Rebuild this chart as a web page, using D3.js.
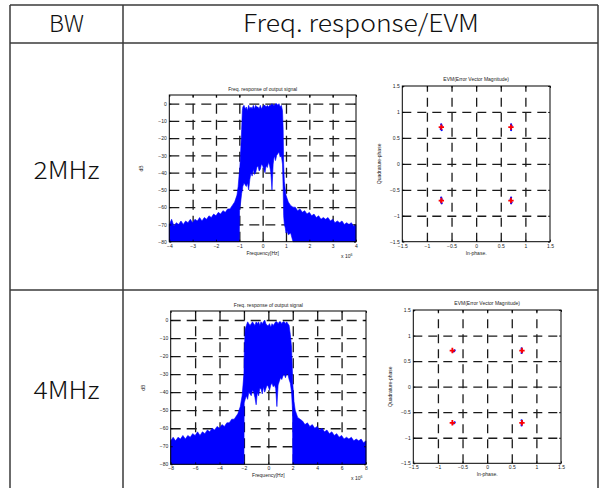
<!DOCTYPE html>
<html>
<head>
<meta charset="utf-8">
<script src="https://cdn.jsdelivr.net/npm/d3@7"></script>
<style>
  body { margin: 0; background: #fff; }
  svg text { font-family: "Liberation Sans", Arial, sans-serif; }
  svg text.cell { font-family: "Noto Sans CJK KR", "Liberation Sans", sans-serif; font-weight: 300; }
</style>
</head>
<body>
<div id="chart"></div>
<script>
// table texts
var headerLabels = ["BW", "Freq.  response/EVM"];
var bwLabels = ["2MHz", "4MHz"];

// axis ticks
var dbTicks = [0, -10, -20, -30, -40, -50, -60, -70, -80];
var freqTicks2 = [-4, -3, -2, -1, 0, 1, 2, 3, 4];
var freqTicks4 = [-8, -6, -4, -2, 0, 2, 4, 6, 8];
var iqTicks = [-1.5, -1, -0.5, 0, 0.5, 1, 1.5];

// spectrum envelopes: [freq (x1e6 Hz), top dB, bottom dB]
var spectrum2 = [
  [-4.0, -70, -80], [-3.9, -67, -80], [-3.8, -71, -80], [-3.7, -69, -80], [-3.6, -70, -80],
  [-3.5, -68, -80], [-3.4, -70, -80], [-3.3, -68, -80], [-3.2, -69, -80], [-3.1, -67, -80],
  [-3.0, -69, -80], [-2.9, -67, -80], [-2.8, -68, -80], [-2.7, -66, -80], [-2.6, -68, -80],
  [-2.5, -66, -80], [-2.4, -67, -80], [-2.3, -65, -80], [-2.2, -66, -80], [-2.1, -64, -80],
  [-2.0, -65, -80], [-1.9, -63, -80], [-1.8, -64, -80], [-1.7, -62, -80], [-1.6, -63, -80],
  [-1.5, -61, -80], [-1.4, -61, -80], [-1.3, -59, -80], [-1.2, -57, -80], [-1.1, -53, -80],
  [-1.05, -48, -80], [-1.0, -40, -80],
  [-0.99, -40, -62], [-0.95, -30, -58], [-0.9, -15, -52], [-0.87, -4, -50], [-0.85, -2, -48],
  [-0.8, -1, -46], [-0.75, -3, -47], [-0.7, -2, -48], [-0.65, -4, -46], [-0.6, -1, -50],
  [-0.55, -3, -44], [-0.5, -2, -40], [-0.45, -3, -42], [-0.4, -1, -38], [-0.35, -3, -41],
  [-0.3, -1, -40], [-0.25, -2, -37], [-0.2, -2, -36], [-0.15, -3, -39], [-0.1, -1, -38],
  [-0.05, -3, -35], [0, -2, -36], [0.05, -1, -38], [0.1, -1, -40], [0.15, -2, -36],
  [0.2, -1, -37], [0.25, -2, -34], [0.3, -1, -36], [0.35, -1, -40], [0.4, 0, -50],
  [0.45, -1, -35], [0.5, -1, -30], [0.55, 0, -33], [0.6, 0, -30], [0.65, -1, -29],
  [0.7, 0, -28], [0.75, -2, -31], [0.8, -1, -30], [0.85, -4, -35],
  [0.88, -15, -50], [0.9, -35, -65], [0.93, -45, -70], [0.97, -50, -72], [1.0, -53, -75],
  [1.05, -55, -74], [1.1, -57, -76], [1.2, -59, -75], [1.3, -60, -80], [1.4, -60, -80],
  [1.5, -62, -80], [1.6, -61, -80], [1.7, -63, -80], [1.8, -62, -80], [1.9, -64, -80],
  [2.0, -63, -80], [2.1, -65, -80], [2.2, -64, -80], [2.3, -66, -80], [2.4, -65, -80],
  [2.5, -67, -80], [2.6, -66, -80], [2.7, -67, -80], [2.8, -66, -80], [2.9, -68, -80],
  [3.0, -67, -80], [3.1, -69, -80], [3.2, -68, -80], [3.3, -69, -80], [3.4, -68, -80],
  [3.5, -70, -80], [3.6, -69, -80], [3.7, -70, -80], [3.8, -69, -80], [3.9, -71, -80],
  [4.0, -70, -80]
];
var spectrum4 = [
  [-8.0, -67, -80], [-7.8, -65, -80], [-7.6, -67, -80], [-7.4, -65, -80], [-7.2, -66, -80],
  [-7.0, -64, -80], [-6.8, -66, -80], [-6.6, -64, -80], [-6.4, -65, -80], [-6.2, -63, -80],
  [-6.0, -64, -80], [-5.8, -62, -80], [-5.6, -64, -80], [-5.4, -62, -80], [-5.2, -63, -80],
  [-5.0, -61, -80], [-4.8, -62, -80], [-4.6, -60, -80], [-4.4, -61, -80], [-4.2, -59, -80],
  [-4.0, -60, -80], [-3.8, -58, -80], [-3.6, -59, -80], [-3.4, -57, -80], [-3.2, -57, -80],
  [-3.0, -55, -80], [-2.8, -55, -80], [-2.6, -53, -80], [-2.5, -52, -80], [-2.3, -48, -80],
  [-2.15, -42, -80], [-2.0, -30, -80],
  [-1.98, -20, -46], [-1.9, -5, -44], [-1.8, -3, -42], [-1.7, -1, -44], [-1.6, -2, -40],
  [-1.5, -3, -41], [-1.4, -2, -42], [-1.3, -1, -39], [-1.2, -2, -40], [-1.1, -3, -43],
  [-1.0, -1, -47], [-0.9, -2, -40], [-0.8, -1, -42], [-0.7, -3, -38], [-0.6, -1, -38],
  [-0.5, -2, -41], [-0.4, -1, -37], [-0.3, 0, -40], [-0.2, -2, -38], [-0.1, -3, -36],
  [0, -3, -37], [0.1, -2, -39], [0.2, -4, -36], [0.3, -2, -35], [0.4, -3, -37],
  [0.5, -2, -36], [0.6, -1, -38], [0.7, -1, -48], [0.8, -2, -36], [0.9, -1, -34],
  [1.0, -1, -32], [1.1, -2, -33], [1.2, -1, -31], [1.3, -1, -30], [1.4, -2, -32],
  [1.5, -1, -30], [1.6, -2, -30], [1.7, -3, -33], [1.8, -8, -35], [1.9, -15, -40],
  [1.98, -30, -50], [2.0, -35, -80],
  [2.1, -45, -80], [2.2, -50, -80], [2.3, -52, -80], [2.4, -54, -80], [2.6, -55, -80],
  [2.8, -56, -80], [3.0, -58, -80], [3.2, -57, -80], [3.4, -59, -80], [3.6, -58, -80],
  [3.8, -60, -80], [4.0, -59, -80], [4.2, -61, -80], [4.4, -60, -80], [4.6, -62, -80],
  [4.8, -61, -80], [5.0, -63, -80], [5.2, -62, -80], [5.4, -64, -80], [5.6, -63, -80],
  [5.8, -65, -80], [6.0, -64, -80], [6.2, -66, -80], [6.4, -65, -80], [6.6, -66, -80],
  [6.8, -65, -80], [7.0, -67, -80], [7.2, -66, -80], [7.4, -67, -80], [7.6, -66, -80],
  [7.8, -68, -80], [8.0, -67, -80]
];

// constellation: ideal QPSK points and received samples [I, Q]
var evmRef = [[-0.707, 0.707], [0.707, 0.707], [-0.707, -0.707], [0.707, -0.707]];
var evmRx2 = [
  [-0.71, 0.76], [-0.70, 0.73], [-0.71, 0.70], [-0.72, 0.67], [-0.70, 0.65],
  [0.71, 0.76], [0.72, 0.73], [0.70, 0.70], [0.71, 0.67], [0.71, 0.65],
  [-0.71, -0.65], [-0.70, -0.68], [-0.72, -0.71], [-0.71, -0.74], [-0.70, -0.76],
  [0.71, -0.65], [0.70, -0.68], [0.71, -0.71], [0.72, -0.74], [0.71, -0.76]
];
var evmRx4 = [
  [-0.67, 0.70], [-0.66, 0.71], [-0.68, 0.69],
  [0.70, 0.75], [0.70, 0.72], [0.71, 0.68], [0.70, 0.66],
  [-0.67, -0.71], [-0.66, -0.70], [-0.68, -0.72],
  [0.70, -0.66], [0.71, -0.69], [0.70, -0.73], [0.70, -0.76]
];

var W = 600, H = 488;
var svg = d3.select("#chart").append("svg")
    .attr("width", W)
    .attr("height", H);

/*
 *  TABLE
 */
var colX = [10, 123, 598];
var rowY = [5, 43, 290, 489];
var tableLine = "#3a3a3a";

rowY.forEach(function(y) {
  svg.append("line")
      .attr("x1", colX[0]).attr("x2", colX[2])
      .attr("y1", y).attr("y2", y)
      .attr("stroke", tableLine).attr("stroke-width", 1.5);
});
colX.forEach(function(x) {
  svg.append("line")
      .attr("x1", x).attr("x2", x)
      .attr("y1", rowY[0]).attr("y2", rowY[3])
      .attr("stroke", tableLine).attr("stroke-width", 1.5);
});

svg.append("text").attr("class", "cell").attr("x", 66.5).attr("y", 32)
    .attr("text-anchor", "middle").attr("font-size", 23).attr("fill", "#111")
    .attr("textLength", 35).attr("lengthAdjust", "spacingAndGlyphs")
    .text(headerLabels[0]);
svg.append("text").attr("class", "cell").attr("x", 361).attr("y", 32)
    .attr("text-anchor", "middle").attr("font-size", 24).attr("fill", "#111")
    .attr("textLength", 236).attr("lengthAdjust", "spacingAndGlyphs")
    .text(headerLabels[1]);
[179, 399].forEach(function(y, i) {
  svg.append("text").attr("class", "cell").attr("x", 66.5).attr("y", y)
      .attr("text-anchor", "middle").attr("font-size", 24).attr("fill", "#111")
      .attr("textLength", 66).attr("lengthAdjust", "spacingAndGlyphs")
      .text(bwLabels[i]);
});

/*
 *  PANELS
 */
var small = 5;

function gridLines(g, x, y, xt, yt, w, h, dash) {
  // grid sits under the data
  g.append("g").attr("class", "grid")
      .attr("transform", "translate(0," + h + ")")
      .call(d3.axisBottom(x).tickValues(xt.slice(1, -1)).tickSize(-h).tickFormat(""));
  g.append("g").attr("class", "grid")
      .call(d3.axisLeft(y).tickValues(yt.filter(function(v) { return y(v) > 1 && y(v) < h - 1; }))
        .tickSize(-w).tickFormat(""));
  g.selectAll(".grid .domain").remove();
  g.selectAll(".grid line")
      .attr("stroke", "#1a1a1a").attr("stroke-width", 1.3)
      .attr("stroke-dasharray", dash);
}

function tickAxes(g, x, y, xt, yt, w, h, fmtX, fmtY) {
  var ax = g.append("g").attr("transform", "translate(0," + h + ")")
      .call(d3.axisBottom(x).tickValues(xt).tickSize(-2).tickPadding(2.5).tickFormat(fmtX));
  var ay = g.append("g")
      .call(d3.axisLeft(y).tickValues(yt).tickSize(-2).tickPadding(2.5).tickFormat(fmtY));
  var at = g.append("g")
      .call(d3.axisTop(x).tickValues(xt).tickSize(-2).tickFormat(""));
  var ar = g.append("g").attr("transform", "translate(" + w + ",0)")
      .call(d3.axisRight(y).tickValues(yt).tickSize(-2).tickFormat(""));
  [ax, ay, at, ar].forEach(function(a) {
    a.select(".domain").remove();
    a.selectAll("line").attr("stroke", "#000").attr("stroke-width", 0.8);
    a.selectAll("text").attr("font-size", small).attr("fill", "#222")
        .attr("font-family", "Liberation Sans, Arial, sans-serif");
  });
  g.append("rect").attr("width", w).attr("height", h)
      .attr("fill", "none").attr("stroke", "#000").attr("stroke-width", 1);
}

function drawSpectrum(box, data, xt, xmax) {
  var w = box.right - box.left, h = box.bottom - box.top;
  var g = svg.append("g").attr("transform", "translate(" + box.left + "," + box.top + ")");
  var x = d3.scaleLinear().domain([-xmax, xmax]).range([0, w]);
  var y = d3.scaleLinear().domain([-80, 5]).range([h, 0]);

  gridLines(g, x, y, xt, dbTicks, w, h, "10,6");

  var area = d3.area()
      .x(function(d) { return x(d[0]); })
      .y0(function(d) { return y(d[2]); })
      .y1(function(d) { return y(d[1]); });
  g.append("path").datum(data)
      .attr("d", area)
      .attr("fill", "#0000ff")
      .attr("stroke", "#0000ff").attr("stroke-width", 0.6);

  tickAxes(g, x, y, xt, dbTicks, w, h, d3.format("d"), d3.format("d"));

  g.append("text").attr("x", w / 2).attr("y", -4)
      .attr("text-anchor", "middle").attr("font-size", small).attr("fill", "#222")
      .text("Freq. response of output signal");
  g.append("text").attr("x", w / 2).attr("y", h + 13)
      .attr("text-anchor", "middle").attr("font-size", small).attr("fill", "#222")
      .text("Frequency[Hz]");
  var ex = g.append("text").attr("x", w - 15).attr("y", h + 16)
      .attr("font-size", small).attr("fill", "#222");
  ex.append("tspan").text("x 10");
  ex.append("tspan").attr("dy", -2).attr("font-size", 3.5).text("6");
  g.append("text")
      .attr("transform", "translate(-26," + (h / 2) + ")rotate(-90)")
      .attr("text-anchor", "middle").attr("font-size", small).attr("fill", "#222")
      .text("dB");
}

function drawEVM(box, rx, ylabelOffset) {
  var w = box.right - box.left, h = box.bottom - box.top;
  var g = svg.append("g").attr("transform", "translate(" + box.left + "," + box.top + ")");
  var x = d3.scaleLinear().domain([-1.5, 1.5]).range([0, w]);
  var y = d3.scaleLinear().domain([-1.5, 1.5]).range([h, 0]);

  gridLines(g, x, y, iqTicks, iqTicks, w, h, "9,6");

  g.selectAll(".rx").data(rx).enter().append("circle")
      .attr("class", "rx")
      .attr("cx", function(d) { return x(d[0]); })
      .attr("cy", function(d) { return y(d[1]); })
      .attr("r", 1.1)
      .attr("fill", "#0000ff");
  g.selectAll(".ref").data(evmRef).enter().append("path")
      .attr("class", "ref")
      .attr("transform", function(d) { return "translate(" + x(d[0]) + "," + y(d[1]) + ")"; })
      .attr("d", d3.symbol().type(d3.symbolCross).size(16))
      .attr("fill", "#ff0000");

  tickAxes(g, x, y, iqTicks, iqTicks, w, h, d3.format(""), d3.format(""));

  g.append("text").attr("x", w / 2).attr("y", -5)
      .attr("text-anchor", "middle").attr("font-size", small).attr("fill", "#222")
      .text("EVM(Error Vector Magnitude)");
  g.append("text").attr("x", w / 2).attr("y", h + 13)
      .attr("text-anchor", "middle").attr("font-size", small).attr("fill", "#222")
      .text("In-phase.");
  g.append("text")
      .attr("transform", "translate(" + (-ylabelOffset) + "," + (h / 2) + ")rotate(-90)")
      .attr("text-anchor", "middle").attr("font-size", small).attr("fill", "#222")
      .text("Quadrature-phase");
}

drawSpectrum({left: 169.3, right: 356, top: 95, bottom: 241.7}, spectrum2, freqTicks2, 4);
drawEVM({left: 402.3, right: 550, top: 86, bottom: 241.7}, evmRx2, 21);
drawSpectrum({left: 170.7, right: 366, top: 311, bottom: 464.3}, spectrum4, freqTicks4, 8);
drawEVM({left: 413.3, right: 561, top: 310, bottom: 463.3}, evmRx4, 21);
</script>
</body>
</html>
